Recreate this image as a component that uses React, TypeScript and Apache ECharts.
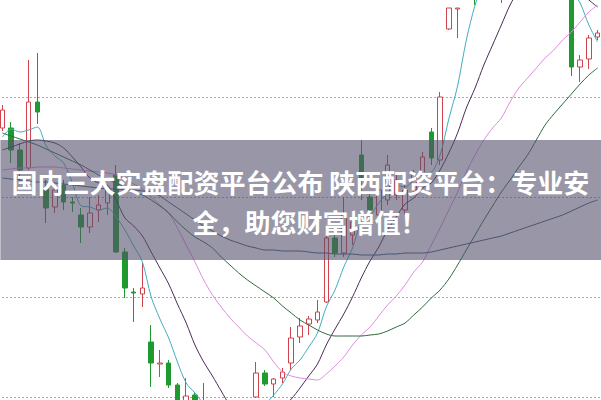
import React, { useEffect, useRef } from 'react';
import * as echarts from 'echarts';

// trading-day categories (labels hidden in the chart)
const categories: string[] = Array.from({ length: 69 }, (_, i) => `D${i + 1}`);

// [open, close, low, high]
const candles: number[][] = [
  [11.69, 11.87, 11.66, 11.92],
  [11.69, 11.47, 11.34, 11.75],
  [11.47, 11.27, 11.14, 11.54],
  [11.29, 11.95, 11.27, 12.37],
  [11.95, 11.85, 11.73, 12.44],
  [11.09, 10.89, 10.74, 11.17],
  [10.90, 11.07, 10.84, 11.14],
  [11.12, 10.95, 10.87, 11.17],
  [10.95, 10.94, 10.85, 11.00],
  [10.82, 10.70, 10.54, 10.89],
  [10.70, 10.84, 10.64, 11.00],
  [10.87, 10.92, 10.75, 11.02],
  [10.94, 11.07, 10.82, 11.12],
  [11.22, 10.45, 10.44, 11.32],
  [10.45, 10.09, 9.99, 10.49],
  [10.05, 10.04, 9.75, 10.09],
  [10.03, 10.09, 9.90, 10.34],
  [9.55, 9.34, 9.10, 9.72],
  [9.33, 9.34, 9.20, 9.47],
  [9.34, 9.12, 9.09, 9.37],
  [9.12, 8.87, 8.82, 9.14],
  [8.95, 9.01, 8.92, 9.19],
  [9.02, 8.87, 8.83, 9.05],
  [8.92, 8.77, 8.72, 9.14],
  [8.77, 8.65, 8.57, 8.82],
  [8.65, 8.57, 8.45, 8.69],
  [8.57, 8.65, 8.42, 8.67],
  [8.65, 8.72, 8.52, 8.77],
  [8.72, 8.85, 8.62, 8.89],
  [9.00, 9.24, 8.99, 9.35],
  [9.24, 9.13, 9.11, 9.27],
  [9.13, 9.18, 9.00, 9.19],
  [9.19, 9.25, 9.14, 9.29],
  [9.34, 9.59, 9.27, 9.70],
  [9.60, 9.71, 9.54, 9.79],
  [9.73, 9.78, 9.62, 9.81],
  [9.77, 9.85, 9.74, 9.97],
  [9.95, 10.59, 9.94, 10.64],
  [10.59, 10.44, 10.40, 10.62],
  [10.44, 10.82, 10.40, 11.00],
  [10.62, 10.75, 10.52, 10.87],
  [11.42, 11.17, 10.97, 11.57],
  [11.00, 10.87, 10.82, 11.05],
  [10.82, 11.07, 10.77, 11.14],
  [10.97, 11.32, 10.92, 11.42],
  [11.02, 11.17, 10.97, 11.22],
  [10.87, 11.07, 10.82, 11.12],
  [11.07, 11.22, 11.02, 11.27],
  [11.22, 11.40, 11.17, 11.45],
  [11.65, 11.39, 11.32, 11.69],
  [11.37, 12.00, 11.32, 12.05],
  [12.68, 12.89, 12.67, 12.89],
  [12.88, 12.89, 12.59, 12.89],
  [13.02, 13.52, 12.99, 13.67],
  [13.37, 13.07, 12.92, 13.47],
  [13.09, 13.42, 13.02, 13.57],
  [13.42, 13.27, 13.17, 13.67],
  [13.22, 13.57, 12.94, 13.72],
  [13.57, 13.37, 13.27, 13.77],
  [13.37, 13.67, 13.32, 13.82],
  [13.67, 13.47, 13.42, 13.92],
  [13.47, 13.77, 13.42, 13.97],
  [13.77, 13.57, 13.47, 13.97],
  [13.52, 13.82, 13.47, 13.97],
  [13.82, 13.62, 13.52, 13.97],
  [13.57, 12.30, 12.21, 13.72],
  [12.30, 12.37, 12.15, 12.42],
  [12.38, 12.59, 12.28, 12.62],
  [12.60, 12.64, 12.57, 12.67],
];

const ma5: number[] = [11.60, 11.68, 11.65, 11.67, 11.70, 11.51, 11.41, 11.34, 11.14, 10.91, 10.90, 10.87, 10.89, 10.80, 10.67, 10.51, 10.35, 10.00, 9.78, 9.59, 9.35, 9.14, 9.04, 8.93, 8.83, 8.77, 8.70, 8.67, 8.69, 8.81, 8.92, 9.02, 9.13, 9.28, 9.37, 9.50, 9.64, 9.90, 10.07, 10.30, 10.49, 10.75, 10.81, 10.94, 11.04, 11.12, 11.10, 11.17, 11.24, 11.25, 11.42, 11.78, 12.11, 12.57, 12.92, 13.17, 13.32, 13.42, 13.47, 13.47, 13.42, 13.37, 13.32, 13.27, 13.22, 13.07, 12.94, 12.72, 12.55];
const ma10: number[] = [11.47, 11.50, 11.53, 11.56, 11.57, 11.56, 11.54, 11.49, 11.40, 11.30, 11.19, 11.14, 11.12, 10.97, 10.79, 10.71, 10.61, 10.45, 10.29, 10.13, 9.93, 9.74, 9.52, 9.35, 9.21, 9.06, 8.92, 8.86, 8.81, 8.82, 8.85, 8.86, 8.90, 8.98, 9.09, 9.21, 9.33, 9.52, 9.68, 9.83, 10.00, 10.19, 10.36, 10.50, 10.67, 10.80, 10.93, 10.99, 11.09, 11.14, 11.27, 11.44, 11.64, 11.89, 12.09, 12.32, 12.52, 12.72, 12.92, 13.07, 13.17, 13.22, 13.25, 13.25, 13.22, 13.12, 13.05, 12.97, 12.90];
const ma20: number[] = [11.27, 11.28, 11.29, 11.29, 11.30, 11.30, 11.30, 11.29, 11.28, 11.27, 11.26, 11.25, 11.24, 11.22, 11.18, 11.13, 11.08, 11.00, 10.92, 10.84, 10.69, 10.52, 10.35, 10.17, 10.02, 9.90, 9.79, 9.70, 9.61, 9.54, 9.47, 9.35, 9.25, 9.21, 9.19, 9.18, 9.17, 9.23, 9.31, 9.40, 9.52, 9.62, 9.70, 9.81, 9.92, 10.01, 10.12, 10.25, 10.35, 10.52, 10.69, 10.87, 11.05, 11.25, 11.42, 11.57, 11.69, 11.79, 11.95, 12.09, 12.19, 12.29, 12.39, 12.47, 12.57, 12.65, 12.75, 12.85, 12.92];
const ma30: number[] = [11.64, 11.61, 11.58, 11.55, 11.52, 11.48, 11.44, 11.40, 11.36, 11.32, 11.27, 11.22, 11.18, 11.14, 11.10, 11.06, 11.02, 10.97, 10.91, 10.84, 10.75, 10.67, 10.60, 10.55, 10.49, 10.40, 10.32, 10.24, 10.17, 10.11, 10.05, 9.99, 9.91, 9.84, 9.77, 9.72, 9.67, 9.63, 9.61, 9.61, 9.61, 9.61, 9.62, 9.63, 9.66, 9.70, 9.74, 9.82, 9.90, 9.99, 10.07, 10.18, 10.32, 10.47, 10.62, 10.77, 10.91, 11.05, 11.17, 11.30, 11.42, 11.57, 11.72, 11.83, 11.93, 12.03, 12.13, 12.22, 12.29];
const ma60: number[] = [11.19, 11.18, 11.17, 11.16, 11.15, 11.15, 11.14, 11.13, 11.12, 11.11, 11.10, 11.09, 11.08, 11.08, 11.07, 11.07, 11.06, 11.05, 11.01, 10.95, 10.89, 10.83, 10.77, 10.71, 10.66, 10.61, 10.57, 10.54, 10.51, 10.49, 10.47, 10.47, 10.46, 10.46, 10.46, 10.45, 10.44, 10.44, 10.43, 10.43, 10.43, 10.42, 10.42, 10.42, 10.43, 10.43, 10.44, 10.44, 10.44, 10.45, 10.47, 10.49, 10.51, 10.53, 10.55, 10.57, 10.59, 10.61, 10.64, 10.67, 10.70, 10.73, 10.76, 10.79, 10.82, 10.86, 10.90, 10.94, 10.97];

const titleLine1 = '国内三大实盘配资平台公布 陕西配资平台：专业安';
const titleLine2 = '全，助您财富增值！';

// the chart canvas is larger than the visible window; it is offset so the
// visible 601x400 window shows only the cropped middle part
const OFF_X = -2.4;
const OFF_Y = -103;

const maLine = (name: string, data: number[], color: string) => ({
  name,
  type: 'line',
  data,
  symbol: 'none',
  smooth: 0.3,
  silent: true,
  lineStyle: { width: 1, color },
  z: 3,
});

export default function App() {
  const ref = useRef<HTMLDivElement>(null);
  useEffect(() => {
    if (!ref.current) return;
    const chart = echarts.init(ref.current, undefined, { renderer: 'svg' });
    chart.setOption({
      animation: false,
      backgroundColor: '#ffffff',
      grid: { left: 0, right: 0, top: 0, bottom: 0 },
      xAxis: {
        type: 'category',
        data: categories,
        boundaryGap: true,
        axisLine: { show: false },
        axisTick: { show: false },
        axisLabel: { show: false },
        splitLine: { show: false },
      },
      yAxis: {
        type: 'value',
        min: 7,
        max: 14,
        interval: 1,
        axisLine: { show: false },
        axisTick: { show: false },
        axisLabel: { show: false },
        splitLine: { show: true, lineStyle: { color: '#a9a9a9', width: 1, type: [2, 2] } },
      },
      series: [
        {
          name: 'K',
          type: 'candlestick',
          data: candles,
          barWidth: 5,
          silent: true,
          itemStyle: {
            color: '#ffffff',
            color0: '#1f9a2e',
            borderColor: '#cf434d',
            borderColor0: '#1f9a2e',
            borderWidth: 1,
          },
          z: 2,
        },
        maLine('MA5', ma5, '#42aebf'),
        maLine('MA10', ma10, '#4a2c58'),
        maLine('MA20', ma20, '#e08ce0'),
        maLine('MA30', ma30, '#2e6a3c'),
        maLine('MA60', ma60, '#36597a'),
      ],
      graphic: [
        {
          type: 'rect',
          shape: { x: -OFF_X, y: 140 - OFF_Y, width: 601, height: 120 },
          style: { fill: 'rgba(85,82,108,0.6)' },
          z: 100,
          silent: true,
        },
        {
          type: 'text',
          x: 300 - OFF_X,
          y: 181 - OFF_Y,
          style: {
            text: titleLine1,
            fill: '#ffffff',
            font: 'bold 26px "Noto Sans CJK SC"',
            textAlign: 'center',
            textVerticalAlign: 'middle',
          },
          z: 101,
          silent: true,
        },
        {
          type: 'text',
          x: 192 - OFF_X,
          y: 221 - OFF_Y,
          style: {
            text: titleLine2,
            fill: '#ffffff',
            font: 'bold 26px "Noto Sans CJK SC"',
            textAlign: 'left',
            textVerticalAlign: 'middle',
          },
          z: 101,
          silent: true,
        },
      ],
    });
    return () => chart.dispose();
  }, []);
  return (
    <div
      style={{
        position: 'fixed',
        left: 0,
        top: 0,
        width: 601,
        height: 400,
        overflow: 'hidden',
        background: '#fff',
      }}
    >
      <div
        ref={ref}
        style={{ position: 'absolute', left: OFF_X, top: OFF_Y, width: 603.75, height: 700 }}
      />
    </div>
  );
}
